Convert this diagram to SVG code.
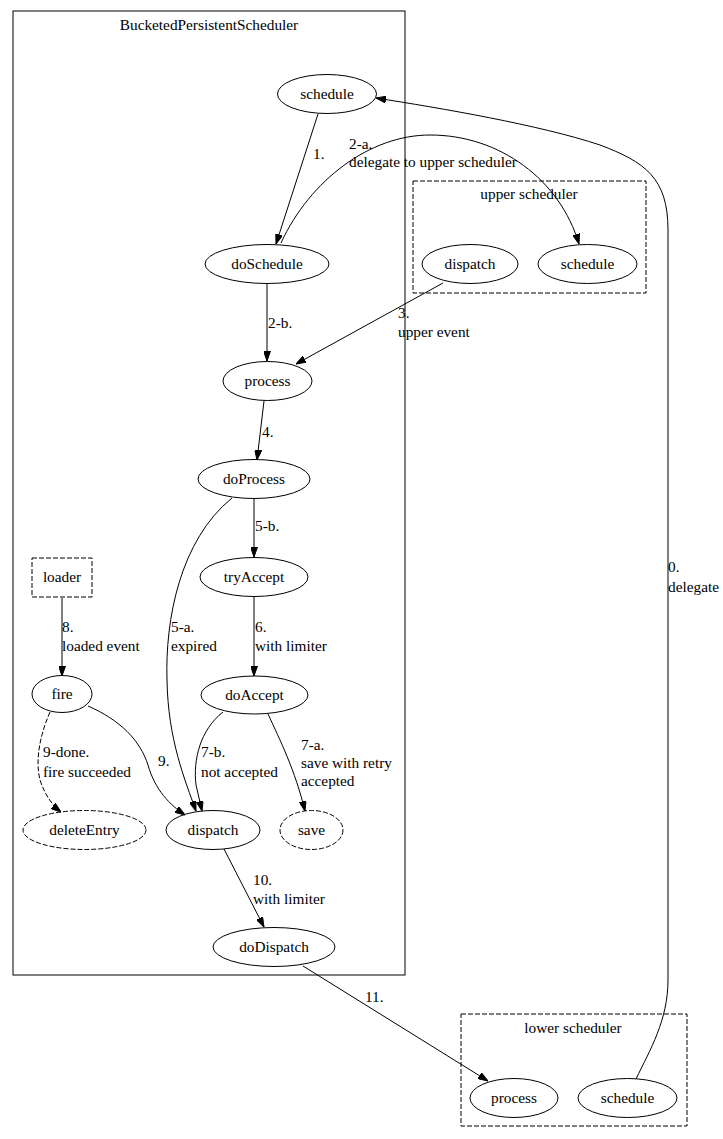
<svg xmlns="http://www.w3.org/2000/svg" width="723" height="1139" viewBox="0 0 723 1139">
<style>
text{font-family:"Liberation Serif","Times New Roman",serif;font-size:15.3px;fill:#000}
.c{text-anchor:middle}
.n{fill:none;stroke:#000;stroke-width:1}
.d{stroke-dasharray:5,2}
.e{fill:none;stroke:#000;stroke-width:1}
.cl{fill:none;stroke:#000;stroke-width:1}
</style>
<defs>
<marker id="a" markerWidth="10" markerHeight="7" refX="10" refY="3.5" orient="auto" markerUnits="userSpaceOnUse">
<path d="M0,0 L10,3.5 L0,7 z" fill="#000" stroke="#000" stroke-width="1"/>
</marker>
</defs>
<rect width="723" height="1139" fill="#fff"/>
<g id="cluster_bps">
<rect class="cl" x="13" y="11" width="392" height="964"/>
<text class="c" x="209" y="30">BucketedPersistentScheduler</text>
</g>
<g id="cluster_upper">
<rect class="cl d" x="413" y="181" width="233" height="112"/>
<text class="c" x="529" y="199">upper scheduler</text>
</g>
<g id="cluster_lower">
<rect class="cl d" x="461" y="1014" width="226" height="112"/>
<text class="c" x="573" y="1033">lower scheduler</text>
</g>
<g id="connectors">
<path class="e" marker-end="url(#a)" d="M636,1079 C650,1050 668,1020 668,980 L668,230 C668,178 645,162 600,145 C540,125 440,108 376,98"/>
<path class="e" marker-end="url(#a)" d="M318,114 L276,244"/>
<path class="e" marker-end="url(#a)" d="M281,243 C310,180 370,135 430,135 C500,135 560,180 579,244"/>
<path class="e" marker-end="url(#a)" d="M267,284 L267,361"/>
<path class="e" marker-end="url(#a)" d="M443,283 L296,364"/>
<path class="e" marker-end="url(#a)" d="M264,401 L257,460"/>
<path class="e" marker-end="url(#a)" d="M254,499 L254,557"/>
<path class="e" marker-end="url(#a)" d="M232,498 C180,540 165,620 167,680 C168,740 185,780 196,811"/>
<path class="e" marker-end="url(#a)" d="M254,597 L254,676"/>
<path class="e" marker-end="url(#a)" d="M223,712 C200,730 193,760 196,785 L202,811"/>
<path class="e" marker-end="url(#a)" d="M268,714 C280,740 295,770 305,811"/>
<path class="e" marker-end="url(#a)" d="M62,598 L62,676"/>
<path class="e" marker-end="url(#a)" d="M88,706 C120,720 140,740 148,765 C155,790 170,805 185,815"/>
<path class="e d" marker-end="url(#a)" d="M50,712 C40,735 35,760 40,780 C45,795 52,805 61,812"/>
<path class="e" marker-end="url(#a)" d="M224,849 L264,927"/>
<path class="e" marker-end="url(#a)" d="M303,966 L488,1081"/>
<text x="313" y="159">1.</text>
<text x="349" y="149">2-a.</text>
<text x="349" y="167">delegate to upper scheduler</text>
<text x="268" y="328">2-b.</text>
<text x="398" y="318">3.</text>
<text x="398" y="337">upper event</text>
<text x="262" y="437">4.</text>
<text x="255" y="531">5-b.</text>
<text x="171" y="632">5-a.</text>
<text x="171" y="651">expired</text>
<text x="255" y="632">6.</text>
<text x="255" y="651">with limiter</text>
<text x="62" y="632">8.</text>
<text x="62" y="651">loaded event</text>
<text x="201" y="757">7-b.</text>
<text x="201" y="777">not accepted</text>
<text x="301" y="750">7-a.</text>
<text x="301" y="768">save with retry</text>
<text x="301" y="786">accepted</text>
<text x="158" y="766">9.</text>
<text x="43" y="757">9-done.</text>
<text x="43" y="777">fire succeeded</text>
<text x="253" y="885">10.</text>
<text x="253" y="904">with limiter</text>
<text x="365" y="1002">11.</text>
<text x="668" y="572">0.</text>
<text x="668" y="592">delegate</text>
</g>
<g id="node_schedule"><ellipse class="n" cx="327" cy="94" rx="49.5" ry="19.5"/><text class="c" x="327" y="99">schedule</text></g>
<g id="node_doSchedule"><ellipse class="n" cx="267" cy="264" rx="62" ry="19.5"/><text class="c" x="267" y="269">doSchedule</text></g>
<g id="node_upper_dispatch"><ellipse class="n" cx="470" cy="264" rx="48" ry="19.5"/><text class="c" x="470" y="269">dispatch</text></g>
<g id="node_upper_schedule"><ellipse class="n" cx="587.5" cy="264" rx="49.5" ry="19.5"/><text class="c" x="587.5" y="269">schedule</text></g>
<g id="node_process"><ellipse class="n" cx="267.5" cy="381" rx="44.5" ry="19.5"/><text class="c" x="267.5" y="386">process</text></g>
<g id="node_doProcess"><ellipse class="n" cx="254" cy="479" rx="56" ry="19.5"/><text class="c" x="254" y="484">doProcess</text></g>
<g id="node_tryAccept"><ellipse class="n" cx="254" cy="577" rx="54" ry="19.5"/><text class="c" x="254" y="582">tryAccept</text></g>
<g id="node_loader"><rect class="n d" x="32" y="558" width="60" height="39"/><text class="c" x="62" y="582">loader</text></g>
<g id="node_fire"><ellipse class="n" cx="62" cy="694" rx="30" ry="18.5"/><text class="c" x="62" y="699">fire</text></g>
<g id="node_doAccept"><ellipse class="n" cx="254.5" cy="695" rx="53.5" ry="19"/><text class="c" x="254.5" y="700">doAccept</text></g>
<g id="node_deleteEntry"><ellipse class="n d" cx="84.5" cy="830" rx="61.5" ry="19.5"/><text class="c" x="84.5" y="835">deleteEntry</text></g>
<g id="node_dispatch"><ellipse class="n" cx="213" cy="830" rx="47" ry="19.5"/><text class="c" x="213" y="835">dispatch</text></g>
<g id="node_save"><ellipse class="n d" cx="311.5" cy="830" rx="31.5" ry="19.5"/><text class="c" x="311.5" y="835">save</text></g>
<g id="node_doDispatch"><ellipse class="n" cx="274" cy="947" rx="61" ry="19.5"/><text class="c" x="274" y="952">doDispatch</text></g>
<g id="node_lower_process"><ellipse class="n" cx="514" cy="1098" rx="44" ry="19.5"/><text class="c" x="514" y="1103">process</text></g>
<g id="node_lower_schedule"><ellipse class="n" cx="627.5" cy="1098" rx="49.5" ry="19.5"/><text class="c" x="627.5" y="1103">schedule</text></g>
</svg>
